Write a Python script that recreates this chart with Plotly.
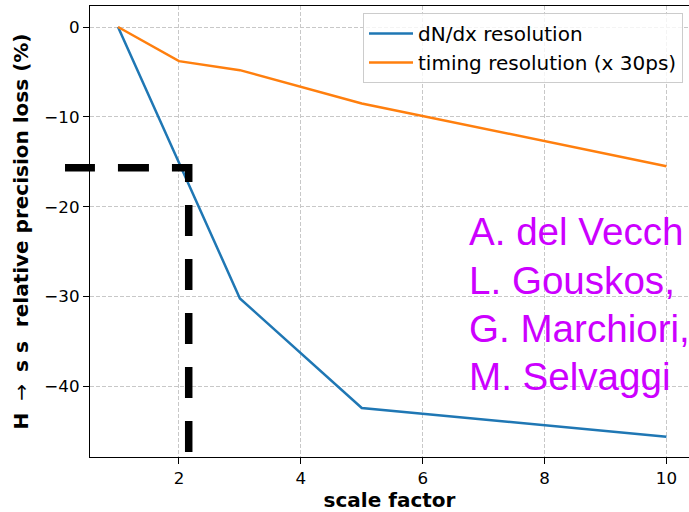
import plotly.graph_objects as go

# ---- data ----
scale_factor = [1, 2, 3, 5, 10]
dndx_loss = [0.0, -15.2, -30.2, -42.4, -45.6]
timing_loss = [0.0, -3.8, -4.8, -8.5, -15.5]
series_names = ["dN/dx resolution", "timing resolution (x 30ps)"]
x_ticks = [2, 4, 6, 8, 10]
y_ticks = [0, -10, -20, -30, -40]
y_ticktext = ["0", "\u221210", "\u221220", "\u221230", "\u221240"]
# author overlay, as visible in the (cropped) reference
authors = ["A. del Vecch", "L. Gouskos,", "G. Marchiori,", "M. Selvaggi"]
# hand-drawn guide: vertical at cut_x from guide_y_bottom up to cut_y, then left to guide_x_left
cut_x = 2.16
cut_y = -15.67
guide_y_bottom = -47.3
guide_x_left = 0.13

x_range = [0.54, 10.37]
y_range = [-47.85, 2.34]

def px_(x):
    return (x - x_range[0]) / (x_range[1] - x_range[0])

def py_(y):
    return (y - y_range[0]) / (y_range[1] - y_range[0])

fig = go.Figure()
fig.add_trace(go.Scatter(x=scale_factor, y=dndx_loss, mode="lines", name=series_names[0],
                         line=dict(color="#1f77b4", width=2.5)))
fig.add_trace(go.Scatter(x=scale_factor, y=timing_loss, mode="lines", name=series_names[1],
                         line=dict(color="#ff7f0e", width=2.5)))

path = "M {0},{1} L {0},{2} L {3},{2}".format(px_(cut_x), py_(guide_y_bottom), py_(cut_y), px_(guide_x_left))
fig.add_shape(type="path", path=path, xref="paper", yref="paper", layer="above",
              line=dict(color="black", width=7.5, dash="31px,23px"))

# author lines: baseline of first line at ~247px, line pitch ~48px
plot_top, plot_h = 6, 450.7
for i, name in enumerate(authors):
    top_px = 246.7 + 48.3 * i - 38.5
    fig.add_annotation(text=name, xref="paper", yref="paper",
                       x=(467 - 90) / 599, y=1 - (top_px - plot_top) / plot_h,
                       xanchor="left", yanchor="top", align="left", showarrow=False,
                       font=dict(family="Liberation Sans, Arial", size=38.6, color="#cc00ff"))

ylabel = "<b>H</b>\u2002\u200a\u2192\u2002\u200a<b>s s</b>\u2002\u2009<b>relative precision loss (%)</b>"

fig.update_layout(
    width=689, height=512,
    margin=dict(l=90, r=0, t=6, b=55),
    paper_bgcolor="white", plot_bgcolor="white",
    font=dict(family="DejaVu Sans", size=16.7, color="black"),
    showlegend=True,
    legend=dict(x=(683 - 90) / 599, y=1 - (13 - 6) / 450.7, xanchor="right", yanchor="top",
                bgcolor="rgba(255,255,255,0.8)", bordercolor="#cccccc", borderwidth=1,
                itemwidth=44,
                font=dict(family="DejaVu Sans", size=20, color="black")),
)
fig.update_xaxes(range=x_range, tickvals=x_ticks, ticks="outside", ticklen=6, tickwidth=1.3,
                 tickcolor="black", showline=True, linecolor="black", linewidth=1.3, mirror=True,
                 showgrid=True, gridcolor="#c8c8c8", gridwidth=1, griddash="4px,2px", zeroline=False,
                 tickfont=dict(size=16.7),
                 title=dict(text="<b>scale factor</b>", font=dict(size=20), standoff=6))
fig.update_yaxes(range=y_range, tickvals=y_ticks, ticktext=y_ticktext, ticks="outside", ticklen=6,
                 tickwidth=1.3, tickcolor="black", showline=True, linecolor="black", linewidth=1.3,
                 mirror=False, showgrid=True, gridcolor="#c8c8c8", gridwidth=1, griddash="4px,2px",
                 zeroline=False, tickfont=dict(size=16.7),
                 title=dict(text=ylabel, font=dict(size=20), standoff=10))

fig.write_html("out.html")
